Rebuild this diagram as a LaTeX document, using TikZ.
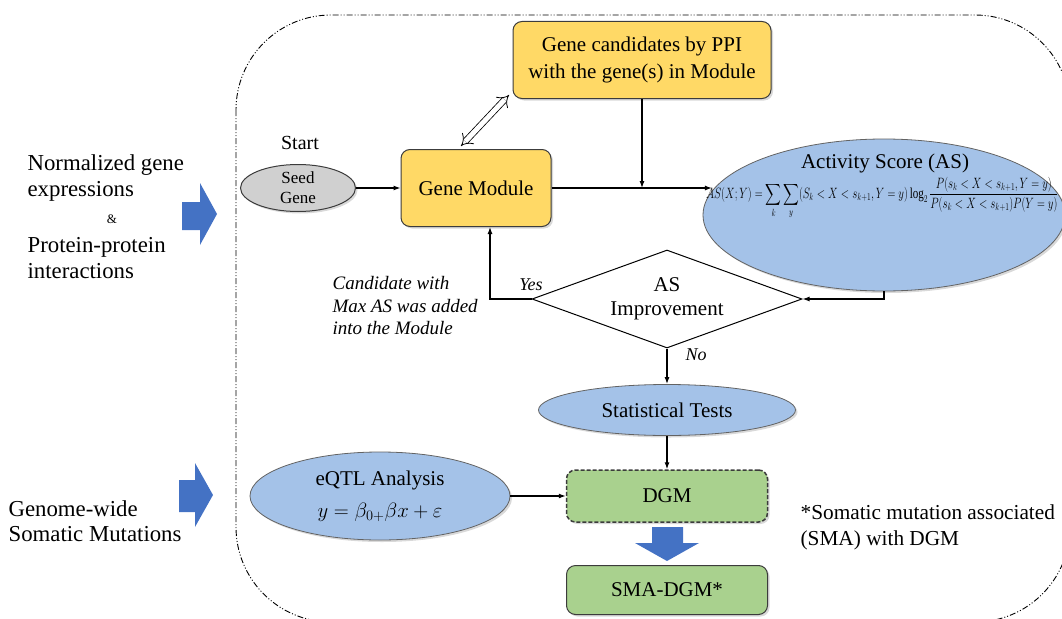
\documentclass[tikz,border=0pt]{standalone}
\usepackage{amsmath}
\usepackage{fontspec}
\setmainfont{LiberationSerif}[Extension=.ttf, UprightFont=*-Regular, ItalicFont=*-Italic, BoldFont=*-Bold, BoldItalicFont=*-BoldItalic]
\usepackage{tikz}
\usepackage{xcolor}
\usetikzlibrary{shapes.geometric, arrows.meta, positioning, calc, shadows}

\definecolor{boxyellow}{RGB}{255,217,102}
\definecolor{boxgreen}{RGB}{169,209,142}
\definecolor{ellblue}{RGB}{164,194,232}
\definecolor{seedgray}{RGB}{208,208,208}
\definecolor{bigblue}{RGB}{68,114,196}
\definecolor{edgegray}{RGB}{60,60,60}

\newcommand{\mainsize}{\fontsize{21}{27}\selectfont}
\newcommand{\sidesize}{\fontsize{22.8}{25.5}\selectfont}
\newcommand{\notesize}{\fontsize{19}{22.5}\selectfont}

\begin{document}
\begin{tikzpicture}[x=1pt, y=-1pt, line width=1.2pt,
  >={Latex[length=7pt,width=5pt]},
  every node/.style={font=\mainsize, inner sep=0pt},
  softshadow/.style={drop shadow={opacity=0.3, shadow xshift=2pt, shadow yshift=-2pt}},
  yellowbox/.style={draw=edgegray, line width=1pt, fill=boxyellow, rounded corners=9pt, softshadow, align=center},
  greenbox/.style={draw=edgegray, line width=1pt, fill=boxgreen, rounded corners=9pt, softshadow, minimum width=201, align=center},
  blueell/.style={ellipse, draw=edgegray!80, line width=0.8pt, fill=ellblue, softshadow, align=center},
  sidetext/.style={anchor=west, align=left, font=\sidesize},
  note/.style={font=\notesize\itshape, align=left}]

\clip (0,0) rectangle (1062,618);

% outer frame
\draw[line width=0.9pt, dash pattern=on 6pt off 2pt on 1pt off 2pt on 1pt off 2pt, rounded corners=95pt]
  (236,15) rectangle (1070,622);

% inputs on the left
\node[sidetext] (inexpr) at (27,178) {Normalized gene\\expressions};
\node[font=\fontsize{13}{15}\selectfont] (inamp) at (112,219) {\&};
\node[sidetext] (inppi) at (27,258) {Protein-protein\\interactions};
\node[sidetext] (insom) at (8,521) {Genome-wide\\Somatic Mutations};

\fill[bigblue] (182,202) -- (200,202) -- (200,183) -- (217,214) -- (200,245) -- (200,230) -- (182,230) -- cycle;
\fill[bigblue] (179,480) -- (195,480) -- (195,463) -- (213,495) -- (195,527) -- (195,512) -- (179,512) -- cycle;

% module search
\node[yellowbox, minimum width=258, minimum height=77] (cand) at (642,60) {Gene candidates by PPI\\with the gene(s) in Module};
\node[yellowbox, minimum width=150, minimum height=77] (module) at (476,188) {Gene Module};
\node[ellipse, draw=edgegray, line width=1pt, fill=seedgray, softshadow, minimum width=115, minimum height=47] (seed) at (298,188) {};
\node[align=center, font=\fontsize{17}{20}\selectfont] (seedtext) at (seed) {Seed\\Gene};
\node[font=\fontsize{20}{24}\selectfont] (start) at (300,143) {Start};

\node[blueell, minimum width=362, minimum height=152] (as) at (884,215) {};
\node (astitle) at (885,163) {Activity Score (AS)};
\node (asformula) at (882,198) {\resizebox*{352pt}{42pt}{$\displaystyle AS(X;Y)=\sum_k\sum_y(S_k<X<s_{k+1},Y=y)\log_2\frac{P(s_k<X<s_{k+1},Y=y)}{P(s_k<X<s_{k+1})P(Y=y)}$}};

\node[diamond, draw, line width=1pt, aspect=2.75, minimum width=270, minimum height=98, align=center,
  font=\fontsize{21}{24}\selectfont] (improve) at (667,299) {AS\\Improvement};

\coordinate (dblA) at (461,146);
\coordinate (dblB) at (509,95);
\draw[double=white, double distance=5pt, line width=0.8pt, {Implies[length=9pt]}-{Implies[length=9pt]}] (dblA) -- (dblB);

\draw[->] (seed) -- (module);
\draw[->] (module.east) -- (module.east -| as.172);
\draw[->] (cand.south) -- (cand.south |- module.east);
\draw[->] (as.south) |- (improve.east);
\draw[->] (improve.west) -| ([xshift=14pt]module.south);
\node[font=\fontsize{18}{20}\selectfont\itshape] (yes) at (531,285) {Yes};
\node[font=\fontsize{18}{20}\selectfont\itshape] (no) at (696,355) {No};
\node[note, anchor=west] (added) at (332,306) {Candidate with\\Max AS was added\\into the Module};

% tests and mutations
\node[blueell, minimum width=257, minimum height=51] (stat) at (667,410) {Statistical Tests};
\draw[->] (improve.south) -- (stat.north);

\node[greenbox, minimum height=52, dash pattern=on 4pt off 2pt, line width=1.5pt] (dgm) at (667,496) {DGM};
\draw[->] (stat.south) -- (dgm.north);

\node[blueell, minimum width=260, minimum height=88, font=\fontsize{21}{32}\selectfont] (eqtl) at (380,496) {eQTL Analysis\\$y=\beta_{0+}\beta x+\varepsilon$};
\draw[->] (eqtl.east) -- (dgm.west);

\fill[bigblue] (652,527) -- (683,527) -- (683,543) -- (699,543) -- (667,561) -- (635,543) -- (652,543) -- cycle;
\node[greenbox, minimum height=49] (smadgm) at (667,590) {SMA-DGM*};

\node[anchor=west, align=left, font=\fontsize{21.3}{26}\selectfont] (smanote) at (800,527) {*Somatic mutation associated\\(SMA) with DGM};
\end{tikzpicture}
\end{document}
